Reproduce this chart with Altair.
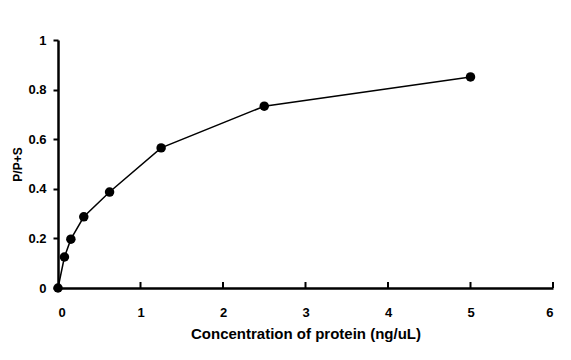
import altair as alt
import pandas as pd

conc = [0, 0.078, 0.156, 0.3125, 0.625, 1.25, 2.5, 5]
ratio = [0, 0.125, 0.197, 0.287, 0.387, 0.565, 0.733, 0.851]
x_ticks = [0, 1, 2, 3, 4, 5, 6]
y_ticks = [0, 0.2, 0.4, 0.6, 0.8, 1]

df = pd.DataFrame({"conc": conc, "ratio": ratio})
ticks_df = pd.DataFrame({"t": x_ticks[1:]})

W, H = 495, 248
FONT = "Liberation Sans"

x = alt.X("conc:Q", scale=alt.Scale(domain=[0, 6], nice=False),
          axis=alt.Axis(values=x_ticks, title="Concentration of protein (ng/uL)",
                        ticks=False, labelPadding=18, titlePadding=7, format="~g",
                        titleFontSize=15))
y = alt.Y("ratio:Q", scale=alt.Scale(domain=[0, 1], nice=False),
          axis=alt.Axis(values=y_ticks, title="P/P+S", format="~g",
                        tickSize=5, labelPadding=7, titlePadding=3, titleFontSize=12))

line = alt.Chart(df).mark_line(color="black", strokeWidth=1.5).encode(x=x, y=y)
pts = alt.Chart(df).mark_circle(color="black", size=90, opacity=1).encode(x="conc:Q", y="ratio:Q")
xt = alt.Chart(ticks_df).mark_rule(color="black", strokeWidth=2).encode(
    x="t:Q", y=alt.value(H), y2=alt.value(H - 6))

chart = alt.layer(xt, line, pts).properties(
    width=W, height=H, padding={"left": 3, "top": 26, "right": 8, "bottom": 5}
).configure_view(stroke=None).configure_axis(
    grid=False, domainColor="black", domainWidth=2.5, tickColor="black", tickWidth=2,
    labelFont=FONT, labelFontWeight="bold", labelFontSize=13, labelColor="black",
    titleFont=FONT, titleFontWeight="bold", titleFontSize=13, titleColor="black",
)

chart.save("out.html", embed_options={"renderer": "svg", "actions": False})
